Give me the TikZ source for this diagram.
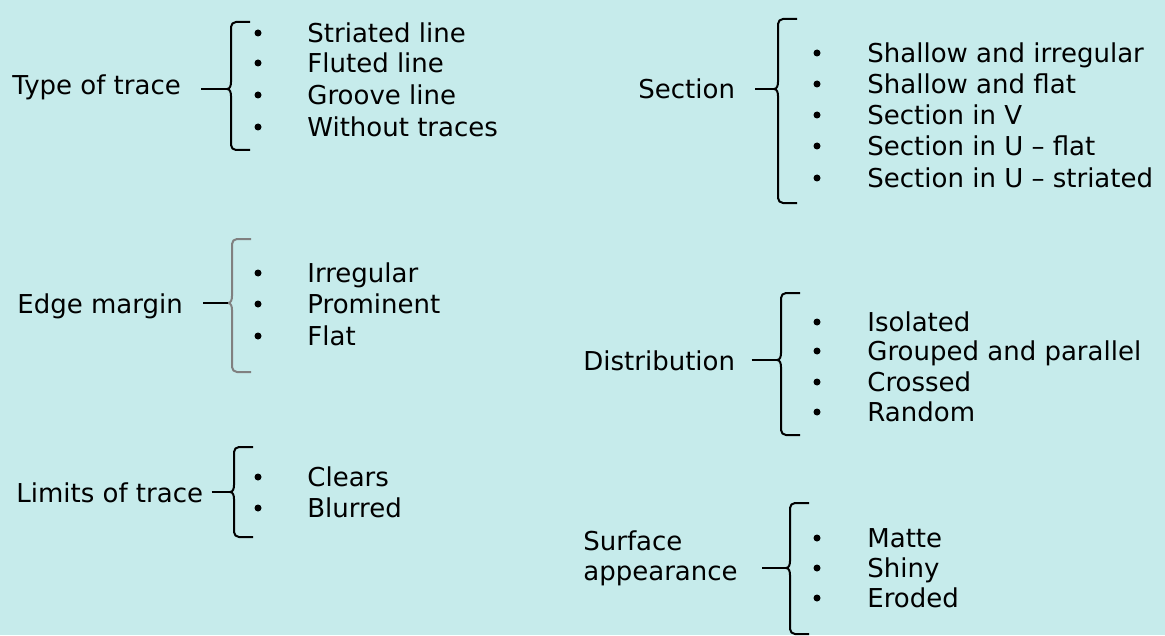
\documentclass[tikz,border=0pt]{standalone}
\usepackage{fontspec}
\setmainfont{DejaVu Sans}
\definecolor{bgcol}{RGB}{198,235,235}
\definecolor{greyline}{RGB}{128,128,128}
\tikzset{
  txt/.style={anchor=west, inner sep=0pt, text height=9.4bp, text depth=0pt,
    font=\fontsize{13bp}{15bp}\selectfont},
  dot/.style={circle, fill=black, inner sep=0pt, minimum size=3.5bp},
  brace line/.style={line width=1bp, line join=round},
  link/.style={line width=1bp}
}
% #1 style, #2 x, #3 top, #4 tip y, #5 bottom, #6 tip name
\newcommand\bracket[6]{%
  \draw[brace line,#1] (#2+19,#3) -- (#2+5,#3) to[out=180,in=90] (#2,#3+5)
    -- (#2,#4-7) to[out=-90,in=0] (#2-4,#4) to[out=0,in=90] (#2,#4+7)
    -- (#2,#5-5) to[out=-90,in=180] (#2+5,#5) -- (#2+19,#5);
  \coordinate (#6) at (#2-4,#4);}
\begin{document}
\begin{tikzpicture}[x=0.5bp,y=-0.5bp]
% background
\fill[bgcol] (0,0) rectangle (1165,635);
% type of trace
\node[txt] (type) at (12,85) {Type of trace};
\bracket{black}{231}{22}{89}{150}{typetip}
\draw[link] ([xshift=10bp]type.east |- typetip) -- (typetip);
\foreach \y/\t [count=\i] in {33/Striated line,63/Fluted line,95/Groove line,127/Without traces} {
  \node[dot] (typedot\i) at (258,\y) {};
  \node[txt] (typeitem\i) at (307,\y) {\t};
}
% edge margin
\node[txt] (edge) at (17,304) {Edge margin};
\bracket{greyline}{232}{239}{303}{372}{edgetip}
\draw[link] ([xshift=10bp]edge.east |- edgetip) -- (edgetip);
\foreach \y/\t [count=\i] in {273/Irregular,304/Prominent,336/Flat} {
  \node[dot] (edgedot\i) at (258,\y) {};
  \node[txt] (edgeitem\i) at (307,\y) {\t};
}
% limits of trace
\node[txt] (limit) at (16,493) {Limits of trace};
\bracket{black}{234}{447}{492}{537}{limittip}
\draw[link] ([xshift=4bp]limit.east |- limittip) -- (limittip);
\foreach \y/\t [count=\i] in {477/Clears,508/Blurred} {
  \node[dot] (limitdot\i) at (258,\y) {};
  \node[txt] (limititem\i) at (307,\y) {\t};
}
% section
\node[txt] (sect) at (638,89) {Section};
\bracket{black}{778}{19}{89}{203}{secttip}
\draw[link] ([xshift=10bp]sect.east |- secttip) -- (secttip);
\foreach \y/\t [count=\i] in {53/Shallow and irregular,84/Shallow and flat,115/Section in V,
    146/Section in U – flat,178/Section in U – striated} {
  \node[dot] (sectdot\i) at (817,\y) {};
  \node[txt] (sectitem\i) at (867,\y) {\t};
}
% distribution
\node[txt] (distr) at (583,361) {Distribution};
\bracket{black}{781}{293}{360}{435}{distrtip}
\draw[link] ([xshift=8bp]distr.east |- distrtip) -- (distrtip);
\foreach \y/\t [count=\i] in {322/Isolated,351/Grouped and parallel,382/Crossed,412/Random} {
  \node[dot] (distrdot\i) at (817,\y) {};
  \node[txt] (distritem\i) at (867,\y) {\t};
}
% surface appearance
\node[anchor=west, inner sep=0pt, align=left, font=\fontsize{13bp}{15bp}\selectfont]
  (surf) at (583,558) {Surface\\appearance};
\bracket{black}{790}{503}{568}{634}{surftip}
\draw[link] ([xshift=12bp]surf.east |- surftip) -- (surftip);
\foreach \y/\t [count=\i] in {538/Matte,568/Shiny,598/Eroded} {
  \node[dot] (surfdot\i) at (817,\y) {};
  \node[txt] (surfitem\i) at (867,\y) {\t};
}
\end{tikzpicture}
\end{document}
